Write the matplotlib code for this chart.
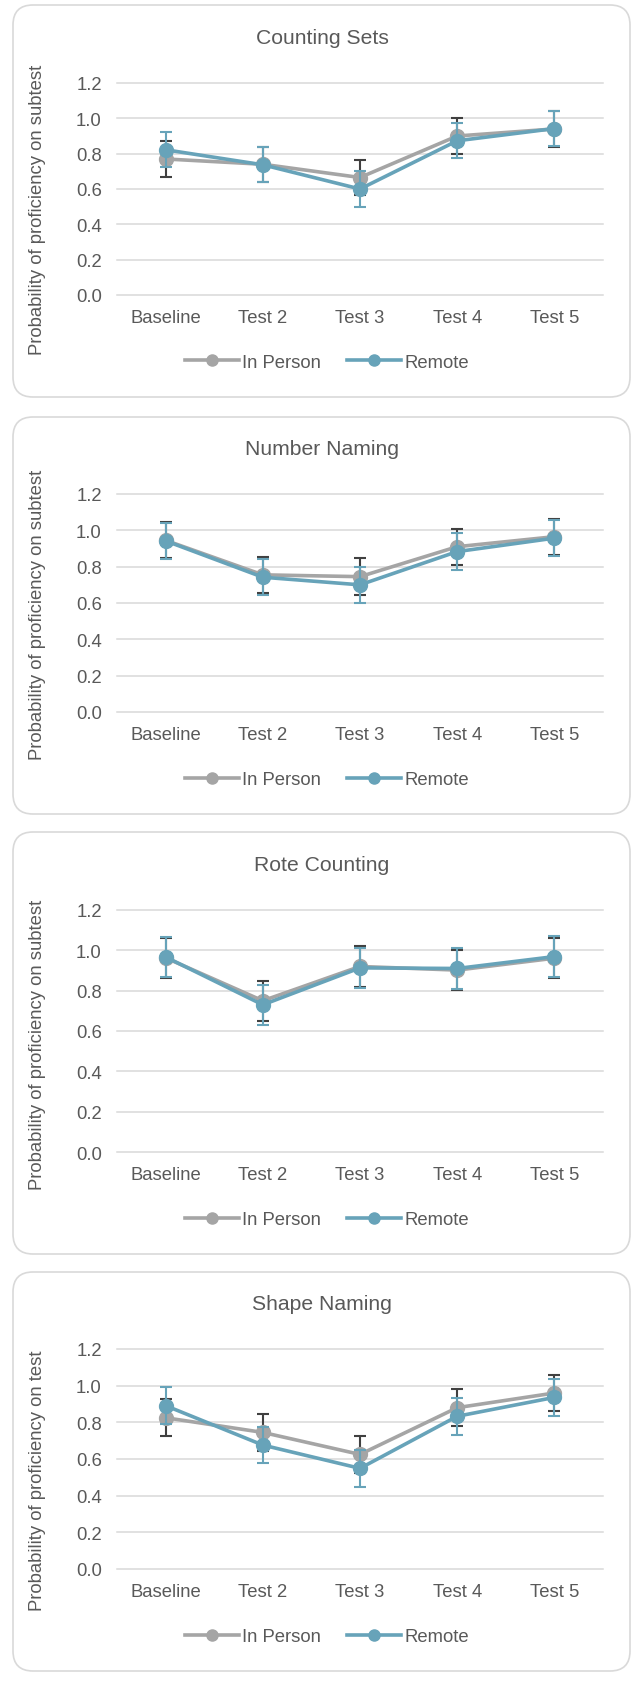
import matplotlib
matplotlib.use("Agg")
import matplotlib.pyplot as plt
from matplotlib.patches import FancyBboxPatch
from matplotlib.lines import Line2D

plt.rcParams['font.family'] = ['Liberation Sans', 'DejaVu Sans']

# data
categories = ['Baseline', 'Test 2', 'Test 3', 'Test 4', 'Test 5']
titles = ['Counting Sets', 'Number Naming', 'Rote Counting', 'Shape Naming']
ylabels = ['Probability of proficiency on subtest',
           'Probability of proficiency on subtest',
           'Probability of proficiency on subtest',
           'Probability of proficiency on test']

in_person = [
    [0.77, 0.74, 0.665, 0.90, 0.94],   # counting sets
    [0.945, 0.755, 0.745, 0.91, 0.965],  # number naming
    [0.963, 0.75, 0.92, 0.902, 0.961],   # rote counting
    [0.825, 0.745, 0.625, 0.88, 0.96],   # shape naming
]
remote = [
    [0.822, 0.737, 0.60, 0.873, 0.942],
    [0.942, 0.742, 0.70, 0.883, 0.957],
    [0.967, 0.73, 0.913, 0.91, 0.969],
    [0.891, 0.676, 0.549, 0.833, 0.936],
]
err = 0.1
yticks = [0.0, 0.2, 0.4, 0.6, 0.8, 1.0, 1.2]

W, H = 632, 1683
GRAY = '#A5A5A5'
TEAL = '#67A3B9'
DARK = '#404040'
TXT = '#595959'

# layout in pixels, top-origin
panels = [(6, 398), (418, 815), (833, 1255), (1273, 1672)]
plot_y = [(84, 296), (495, 713), (911, 1153), (1350, 1570)]
title_y = [39, 450, 866, 1305]
legend_y = [363, 781, 1221, 1638]
ylab_y = [210, 615, 1045, 1481]
px_left, px_right = 117, 603

fig = plt.figure(figsize=(W / 100, H / 100), dpi=100)

for i in range(4):
    top, bot = panels[i]
    box = FancyBboxPatch((13 / 100, (H - bot) / 100), (630 - 13) / 100, (bot - top) / 100,
                         boxstyle="round,pad=0,rounding_size=0.2",
                         transform=fig.dpi_scale_trans, facecolor='white',
                         edgecolor='#D9D9D9', linewidth=1.2, zorder=-5)
    fig.add_artist(box)

    y12, y0 = plot_y[i]
    ax = fig.add_axes([px_left / W, (H - y0) / H, (px_right - px_left) / W, (y0 - y12) / H])
    ax.set_facecolor('none')
    x = range(len(categories))
    ax.errorbar(x, in_person[i], yerr=err, color=GRAY, ecolor=DARK, elinewidth=1.5,
                capsize=4.5, capthick=1.5, lw=2.6, marker='o', ms=10, zorder=3)
    ax.errorbar(x, remote[i], yerr=err, color=TEAL, ecolor=TEAL, elinewidth=1.5,
                capsize=4.5, capthick=1.5, lw=2.6, marker='o', ms=10, zorder=4)
    ax.set_xlim(-0.5, 4.5)
    ax.set_ylim(0, 1.2)
    ax.set_yticks(yticks)
    ax.set_yticklabels([f'{v:.1f}' for v in yticks])
    ax.set_xticks(list(x))
    ax.set_xticklabels(categories)
    ax.tick_params(axis='both', length=0, labelsize=13.3, colors=TXT)
    ax.tick_params(axis='x', pad=10)
    ax.tick_params(axis='y', pad=11)
    ax.grid(axis='y', color='#D9D9D9', lw=1.1, clip_on=False)
    ax.set_axisbelow(True)
    for s in ax.spines.values():
        s.set_visible(False)

    fig.text(38 / W, 1 - ylab_y[i] / H, ylabels[i], rotation=90, ha='center', va='center',
             fontsize=13.3, color=TXT)
    fig.text(322 / W, 1 - title_y[i] / H, titles[i], ha='center', va='center',
             fontsize=15.2, color=TXT)
    handles = [Line2D([], [], color=GRAY, lw=2.6, marker='o', ms=8),
               Line2D([], [], color=TEAL, lw=2.6, marker='o', ms=8)]
    leg = ax.legend(handles, ['In Person', 'Remote'], loc='center',
                    bbox_to_anchor=(327 / W, 1 - legend_y[i] / H),
                    bbox_transform=fig.transFigure, ncol=2, frameon=False,
                    fontsize=13.3, handlelength=2.9, handletextpad=0.2, columnspacing=1.4)
    for t in leg.get_texts():
        t.set_color(TXT)

plt.savefig("out.png", dpi=100)
